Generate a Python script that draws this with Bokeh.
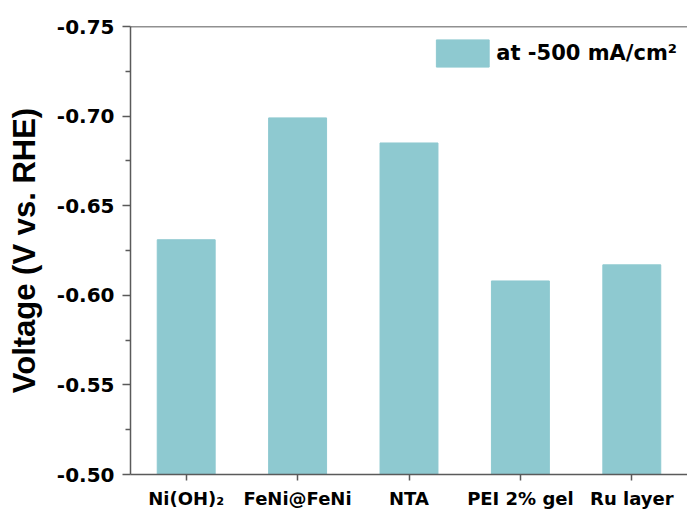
from bokeh.plotting import figure
from bokeh.models import (Range1d, FactorRange, FixedTicker, Span,
                          Legend, LegendItem, ColumnDataSource, CustomJSTickFormatter)
from bokeh.embed import file_html
from bokeh.resources import INLINE

categories = ["Ni(OH)\u2082", "FeNi@FeNi", "NTA", "PEI 2% gel", "Ru layer"]
voltages = [-0.631, -0.699, -0.685, -0.608, -0.617]
y_ticks = [-0.75, -0.70, -0.65, -0.60, -0.55, -0.50]
y_minor = [-0.725, -0.675, -0.625, -0.575, -0.525]
legend_label = "at -500 mA/cm\u00b2"
y_title = "Voltage (V vs. RHE)"
base_value = -0.50

FONT = "DejaVu Sans"
TITLE_FONT = "Liberation Sans"
BAR = "#8ec9d0"
AXIS = "#5a5a5a"

src = ColumnDataSource(dict(cat=categories, top=voltages,
                            bottom=[base_value] * len(categories)))

p = figure(width=687, height=517, output_backend="svg", toolbar_location=None,
           x_range=FactorRange(factors=categories, range_padding=0),
           y_range=Range1d(start=-0.50, end=-0.75))
p.min_border_left = 130
p.min_border_right = 0
p.min_border_top = 26
p.min_border_bottom = 43
p.outline_line_color = None
p.background_fill_color = "white"
p.border_fill_color = "white"
p.grid.visible = False

r = p.vbar(x="cat", top="top", bottom="bottom", width=0.52, source=src,
           fill_color=BAR, line_color=BAR)

# y axis
ya = p.yaxis[0]
ya.ticker = FixedTicker(ticks=y_ticks, minor_ticks=y_minor)
ya.formatter = CustomJSTickFormatter(code="return tick.toFixed(2)")
ya.axis_label = y_title
ya.axis_label_text_font = TITLE_FONT
ya.axis_label_text_font_style = "bold"
ya.axis_label_text_font_size = "31px"
ya.axis_label_text_color = "black"
ya.axis_label_standoff = 12
ya.major_label_text_font = FONT
ya.major_label_text_font_style = "bold"
ya.major_label_text_font_size = "20px"
ya.major_label_text_color = "black"
ya.major_label_standoff = 8
ya.axis_line_color = AXIS
ya.axis_line_width = 1.5
ya.major_tick_line_color = AXIS
ya.minor_tick_line_color = AXIS
ya.major_tick_line_width = 1.5
ya.minor_tick_line_width = 1.5
ya.major_tick_in = 0
ya.major_tick_out = 8
ya.minor_tick_in = 0
ya.minor_tick_out = 5

# x axis
xa = p.xaxis[0]
xa.major_label_text_font = FONT
xa.major_label_text_font_style = "bold"
xa.major_label_text_font_size = "18px"
xa.major_label_text_color = "black"
xa.major_label_standoff = 7
xa.axis_line_color = AXIS
xa.axis_line_width = 1.5
xa.major_tick_line_color = AXIS
xa.major_tick_line_width = 1.5
xa.major_tick_in = 0
xa.major_tick_out = 6

# top frame line
p.add_layout(Span(location=-0.75, dimension="width", line_color="#222222",
                  line_width=1.5))

legend = Legend(items=[LegendItem(label=legend_label, renderers=[r])],
                location="top_right", margin=10, padding=10,
                glyph_width=66, glyph_height=34, label_standoff=1,
                label_text_font=FONT, label_text_font_style="bold",
                label_text_font_size="21px", label_text_color="black",
                border_line_color=None, background_fill_alpha=0)
p.add_layout(legend)

open("out.html", "w").write(file_html(p, INLINE))
